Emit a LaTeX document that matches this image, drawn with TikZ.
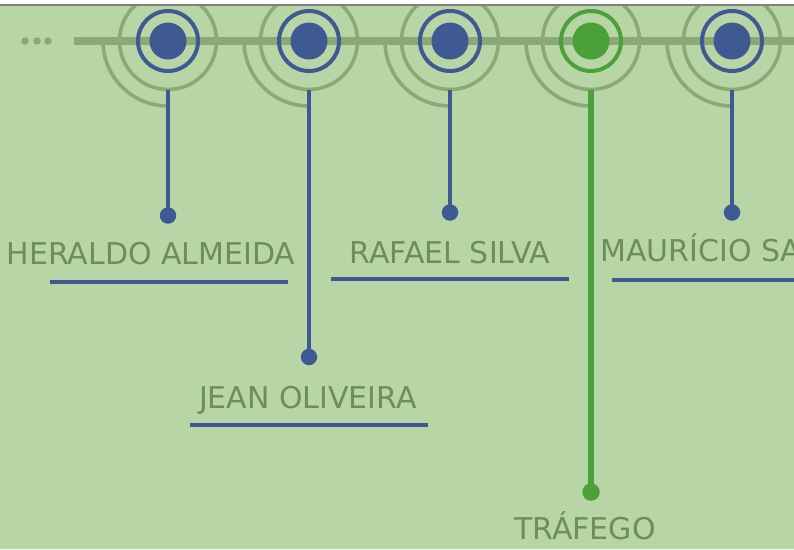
\documentclass[tikz,border=0pt]{standalone}
\usepackage{fontspec}
\setmainfont{DejaVu Sans}
\definecolor{bg}{HTML}{B8D6A5}
\definecolor{track}{HTML}{8BA877}
\definecolor{navy}{HTML}{3F5A93}
\definecolor{leaf}{HTML}{4BA03A}
\definecolor{txt}{HTML}{6E8D5D}
\tikzset{
  outerring/.style={circle, draw=track, line width=3.6pt, minimum size=97pt, inner sep=0pt, outer sep=0pt},
  hubring/.style={circle, line width=4pt, minimum size=60pt, inner sep=0pt},
  hubfill/.style={circle, minimum size=37pt, inner sep=0pt},
  enddot/.style={circle, minimum size=16.5pt, inner sep=0pt},
  lbl/.style={anchor=base, text=txt, font=\fontsize{30}{32}\selectfont, inner sep=0pt},
  uline/.style={draw=navy, line width=4pt},
}
\begin{document}
\begin{tikzpicture}[x=1pt,y=-1pt]
\useasboundingbox (0,0) rectangle (794,549);
\fill[white] (0,0) rectangle (794,549);
\fill[bg] (0,5) rectangle (794,549);
\begin{scope}
\clip (0,5) rectangle (794,549);
% track
\coordinate (tstart) at (74,41);
\coordinate (tend) at (800,41);
\draw[track, line width=7.5pt] (tstart) -- (tend);
\foreach \xx in {25,37,48} \fill[track] (\xx,41) circle[radius=3.8];
% hubs
\foreach \n/\xx/\c in {a/168/navy, b/309/navy, c/450/navy, d/591/leaf, e/732/navy}{
  \node[outerring] (o\n) at (\xx,41) {};
  \draw[track, line width=3.6pt] ([xshift=-65pt]o\n.center) arc[start angle=180, end angle=90, radius=65];
  \node[hubring, draw=\c] (r\n) at (\xx,41) {};
  \node[hubfill, fill=\c] (f\n) at (\xx,41) {};
}
\end{scope}
\draw[gray, line width=1.8pt] (0,5) -- (794,5);
% end dots
\node[enddot, fill=navy] (da) at (168,215.5) {};
\node[enddot, fill=navy] (db) at (309,357) {};
\node[enddot, fill=navy] (dc) at (450,212.5) {};
\node[enddot, fill=leaf, minimum size=17.5pt] (dd) at (591,492) {};
\node[enddot, fill=navy] (de) at (732,212.5) {};
% stems
\draw[navy, line width=3.8pt] (oa.south) -- (da.center);
\draw[navy, line width=3.8pt] (ob.south) -- (db.center);
\draw[navy, line width=3.8pt] (oc.south) -- (dc.center);
\draw[leaf, line width=6pt] (od.south) -- (dd.center);
\draw[navy, line width=3.8pt] (oe.south) -- (de.center);
% labels
\node[lbl] (la) at (151,264) {HERALDO ALMEIDA};
\node[lbl] (lb) at (308,408) {JEAN OLIVEIRA};
\node[lbl] (lc) at (450,263) {RAFAEL SILVA};
\node[lbl, anchor=base west] (le) at (600,261) {MAURÍCIO SANTOS};
\node[lbl] (ld) at (585,539) {TRÁFEGO};
% underlines
\coordinate (ua1) at (50,282); \coordinate (ua2) at (288,282);
\coordinate (ub1) at (190,425); \coordinate (ub2) at (428,425);
\coordinate (uc1) at (331,279); \coordinate (uc2) at (569,279);
\coordinate (ue1) at (612,279.5); \coordinate (ue2) at (800,279.5);
\draw[uline] (ua1) -- (ua2);
\draw[uline] (ub1) -- (ub2);
\draw[uline] (uc1) -- (uc2);
\draw[uline] (ue1) -- (ue2);
\end{tikzpicture}
\end{document}
